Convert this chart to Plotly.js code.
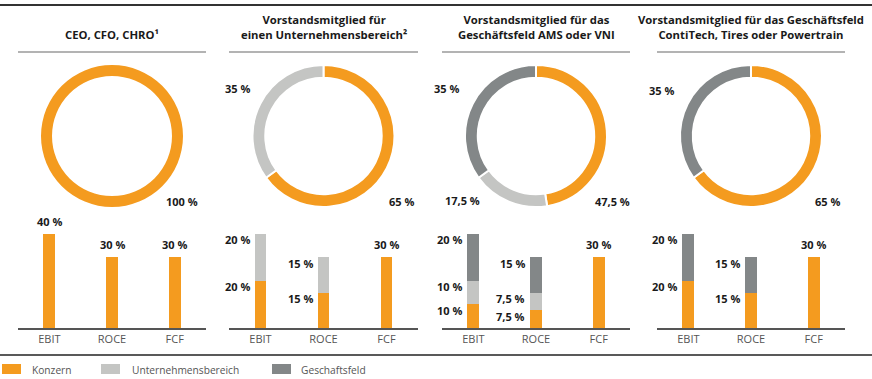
<!DOCTYPE html>
<html>
<head>
<meta charset="utf-8">
<script src="https://cdn.plot.ly/plotly-3.0.1.min.js"></script>
<style>html,body{margin:0;padding:0;background:#fff}#chart{width:872px;height:379px}</style>
</head>
<body>
<div id="chart"></div>
<script>
// ---------------- DATA ----------------
const panelTitles = [
  "CEO, CFO, CHRO¹",
  "Vorstandsmitglied für<br>einen Unternehmensbereich²",
  "Vorstandsmitglied für das<br>Geschäftsfeld AMS oder VNI",
  "Vorstandsmitglied für das Geschäftsfeld<br>ContiTech, Tires oder Powertrain"
];
const seriesNames = ["Konzern", "Unternehmensbereich", "Geschaftsfeld"];
const categories = ["EBIT", "ROCE", "FCF"];
// bar values per panel [EBIT, ROCE, FCF]
const konzernBars = [[40, 30, 30], [20, 15, 30], [10, 7.5, 30], [20, 15, 30]];
const bereichBars = [[0, 0, 0], [20, 15, 0], [10, 7.5, 0], [0, 0, 0]];
const feldBars    = [[0, 0, 0], [0, 0, 0], [20, 15, 0], [20, 15, 0]];
// donut shares per panel
const konzernShare = [100, 65, 47.5, 65];
const bereichShare = [0, 35, 17.5, 0];
const feldShare    = [0, 0, 35, 35];

// ---------------- STYLE / LAYOUT ----------------
const W = 872, H = 379;
const colors = ["#F49B1F", "#C4C5C3", "#838788"];
const FONT = "Open Sans, Roboto, sans-serif";
const panelSpan = [[18, 206], [229, 418], [442, 630], [657, 845]];
const donutCenterY = 136, donutR = 71;
// donut label offsets relative to donut center (px): per panel per series
const donutLabelPos = [
  [[70, 65], null, null],
  [[78, 65], [-86, -47], null],
  [[76, 65], [-74, 64], [-90, -47]],
  [[76, 65], null, [-90, -46]]
];
const px = x => x / W;
const py = y => 1 - y / H;
const fmt = v => String(v).replace('.', ',') + ' %';
const barWidth = 0.19;
const labelFont = {family: FONT, size: 11, weight: "bold", color: "#1a1a1a"};

const data = [];
const annotations = [];
const shapes = [];
const layout = {
  width: W, height: H,
  margin: {l: 0, r: 0, t: 0, b: 0},
  paper_bgcolor: "#fff", plot_bgcolor: "rgba(0,0,0,0)",
  barmode: "stack",
  showlegend: false,
  font: {family: FONT, size: 10.5, color: "#222"},
  annotations, shapes
};

const barSeries = [konzernBars, bereichBars, feldBars];
const shareSeries = [konzernShare, bereichShare, feldShare];

panelTitles.forEach((title, p) => {
  const [x0, x1] = panelSpan[p];
  const cx = (x0 + x1) / 2;
  const ax = p === 0 ? "" : String(p + 1);

  // title
  annotations.push({
    xref: "paper", yref: "paper", x: px(cx), y: py(44),
    xanchor: "center", yanchor: "bottom", showarrow: false,
    text: title, align: "center",
    font: {family: FONT, size: 11.3, weight: "bold", color: "#1a1a1a"}
  });
  // title underline
  shapes.push({type: "line", xref: "paper", yref: "paper",
    x0: px(x0), x1: px(x1), y0: py(52), y1: py(52),
    line: {color: "#9a9a9a", width: 1.5}});

  // donut
  const vals = [], labs = [], cols = [], idx = [];
  shareSeries.forEach((s, k) => { if (s[p] > 0) { vals.push(s[p]); labs.push(seriesNames[k]); cols.push(colors[k]); idx.push(k); } });
  const multi = vals.length > 1;
  data.push({
    type: "pie", values: vals, labels: labs, sort: false, direction: "clockwise", rotation: 0,
    hole: multi ? 0.82 : 0.845, textinfo: "none", hoverinfo: "label+percent",
    marker: {colors: cols, line: {color: "#fff", width: multi ? 2 : 0}},
    domain: {x: [px(cx - donutR), px(cx + donutR)], y: [py(donutCenterY + donutR), py(donutCenterY - donutR)]},
    showlegend: false
  });
  idx.forEach(k => {
    const off = donutLabelPos[p][k];
    annotations.push({
      xref: "paper", yref: "paper", x: px(cx + off[0]), y: py(donutCenterY + off[1]),
      xanchor: "center", yanchor: "middle", showarrow: false,
      text: fmt(shareSeries[k][p]), font: labelFont
    });
  });

  // bars
  barSeries.forEach((s, k) => {
    data.push({
      type: "bar", x: categories, y: s[p], name: seriesNames[k],
      xaxis: "x" + ax, yaxis: "y" + ax, width: barWidth,
      marker: {color: colors[k], line: {width: 0}}, showlegend: false,
      hovertemplate: seriesNames[k] + ": %{y} %<extra></extra>"
    });
  });
  categories.forEach((c, i) => {
    const segs = barSeries.map(s => s[p][i]);
    const nonzero = segs.filter(v => v > 0).length;
    const total = segs.reduce((a, b) => a + b, 0);
    if (nonzero <= 1) {
      annotations.push({
        xref: "x" + ax, yref: "y" + ax, x: c, y: total,
        xanchor: "center", yanchor: "bottom", yshift: 3, showarrow: false,
        text: fmt(total), font: labelFont
      });
    } else {
      let cum = 0;
      segs.forEach(v => {
        if (v <= 0) return;
        cum += v;
        annotations.push({
          xref: "x" + ax, yref: "y" + ax, x: i - barWidth / 2, y: cum,
          xanchor: "right", yanchor: "middle", xshift: -3, yshift: -6, showarrow: false,
          text: fmt(v), font: labelFont
        });
      });
    }
  });

  layout["xaxis" + ax] = {
    domain: [px(x0), px(x1)], anchor: "y" + ax, type: "category",
    range: [-0.5, 2.5], showline: true, linecolor: "#555", linewidth: 1.5,
    showgrid: false, zeroline: false, ticks: "", fixedrange: true,
    tickfont: {family: FONT, size: 11, color: "#555"}
  };
  layout["yaxis" + ax] = {
    domain: [py(328), py(221.8)], anchor: "x" + ax, range: [0, 45],
    visible: false, showgrid: false, zeroline: false, fixedrange: true
  };
});

// top rule and legend rule
shapes.push({type: "line", xref: "paper", yref: "paper", x0: 0, x1: 1, y0: py(5), y1: py(5),
  line: {color: "#333", width: 2}});
shapes.push({type: "line", xref: "paper", yref: "paper", x0: 0, x1: 1, y0: py(355), y1: py(355),
  line: {color: "#222", width: 1.5}});

// custom legend
const legendX = [[2, 30], [101, 130], [272, 299]];
seriesNames.forEach((n, k) => {
  shapes.push({type: "rect", xref: "paper", yref: "paper",
    x0: px(legendX[k][0]), x1: px(legendX[k][0] + 19), y0: py(374), y1: py(364),
    fillcolor: colors[k], line: {width: 0}});
  annotations.push({xref: "paper", yref: "paper", x: px(legendX[k][1]), y: py(369.5),
    xanchor: "left", yanchor: "middle", showarrow: false, text: n,
    font: {family: FONT, size: 10.2, color: "#555"}});
});

Plotly.newPlot("chart", data, layout, {displayModeBar: false, staticPlot: true});
</script>
</body>
</html>
